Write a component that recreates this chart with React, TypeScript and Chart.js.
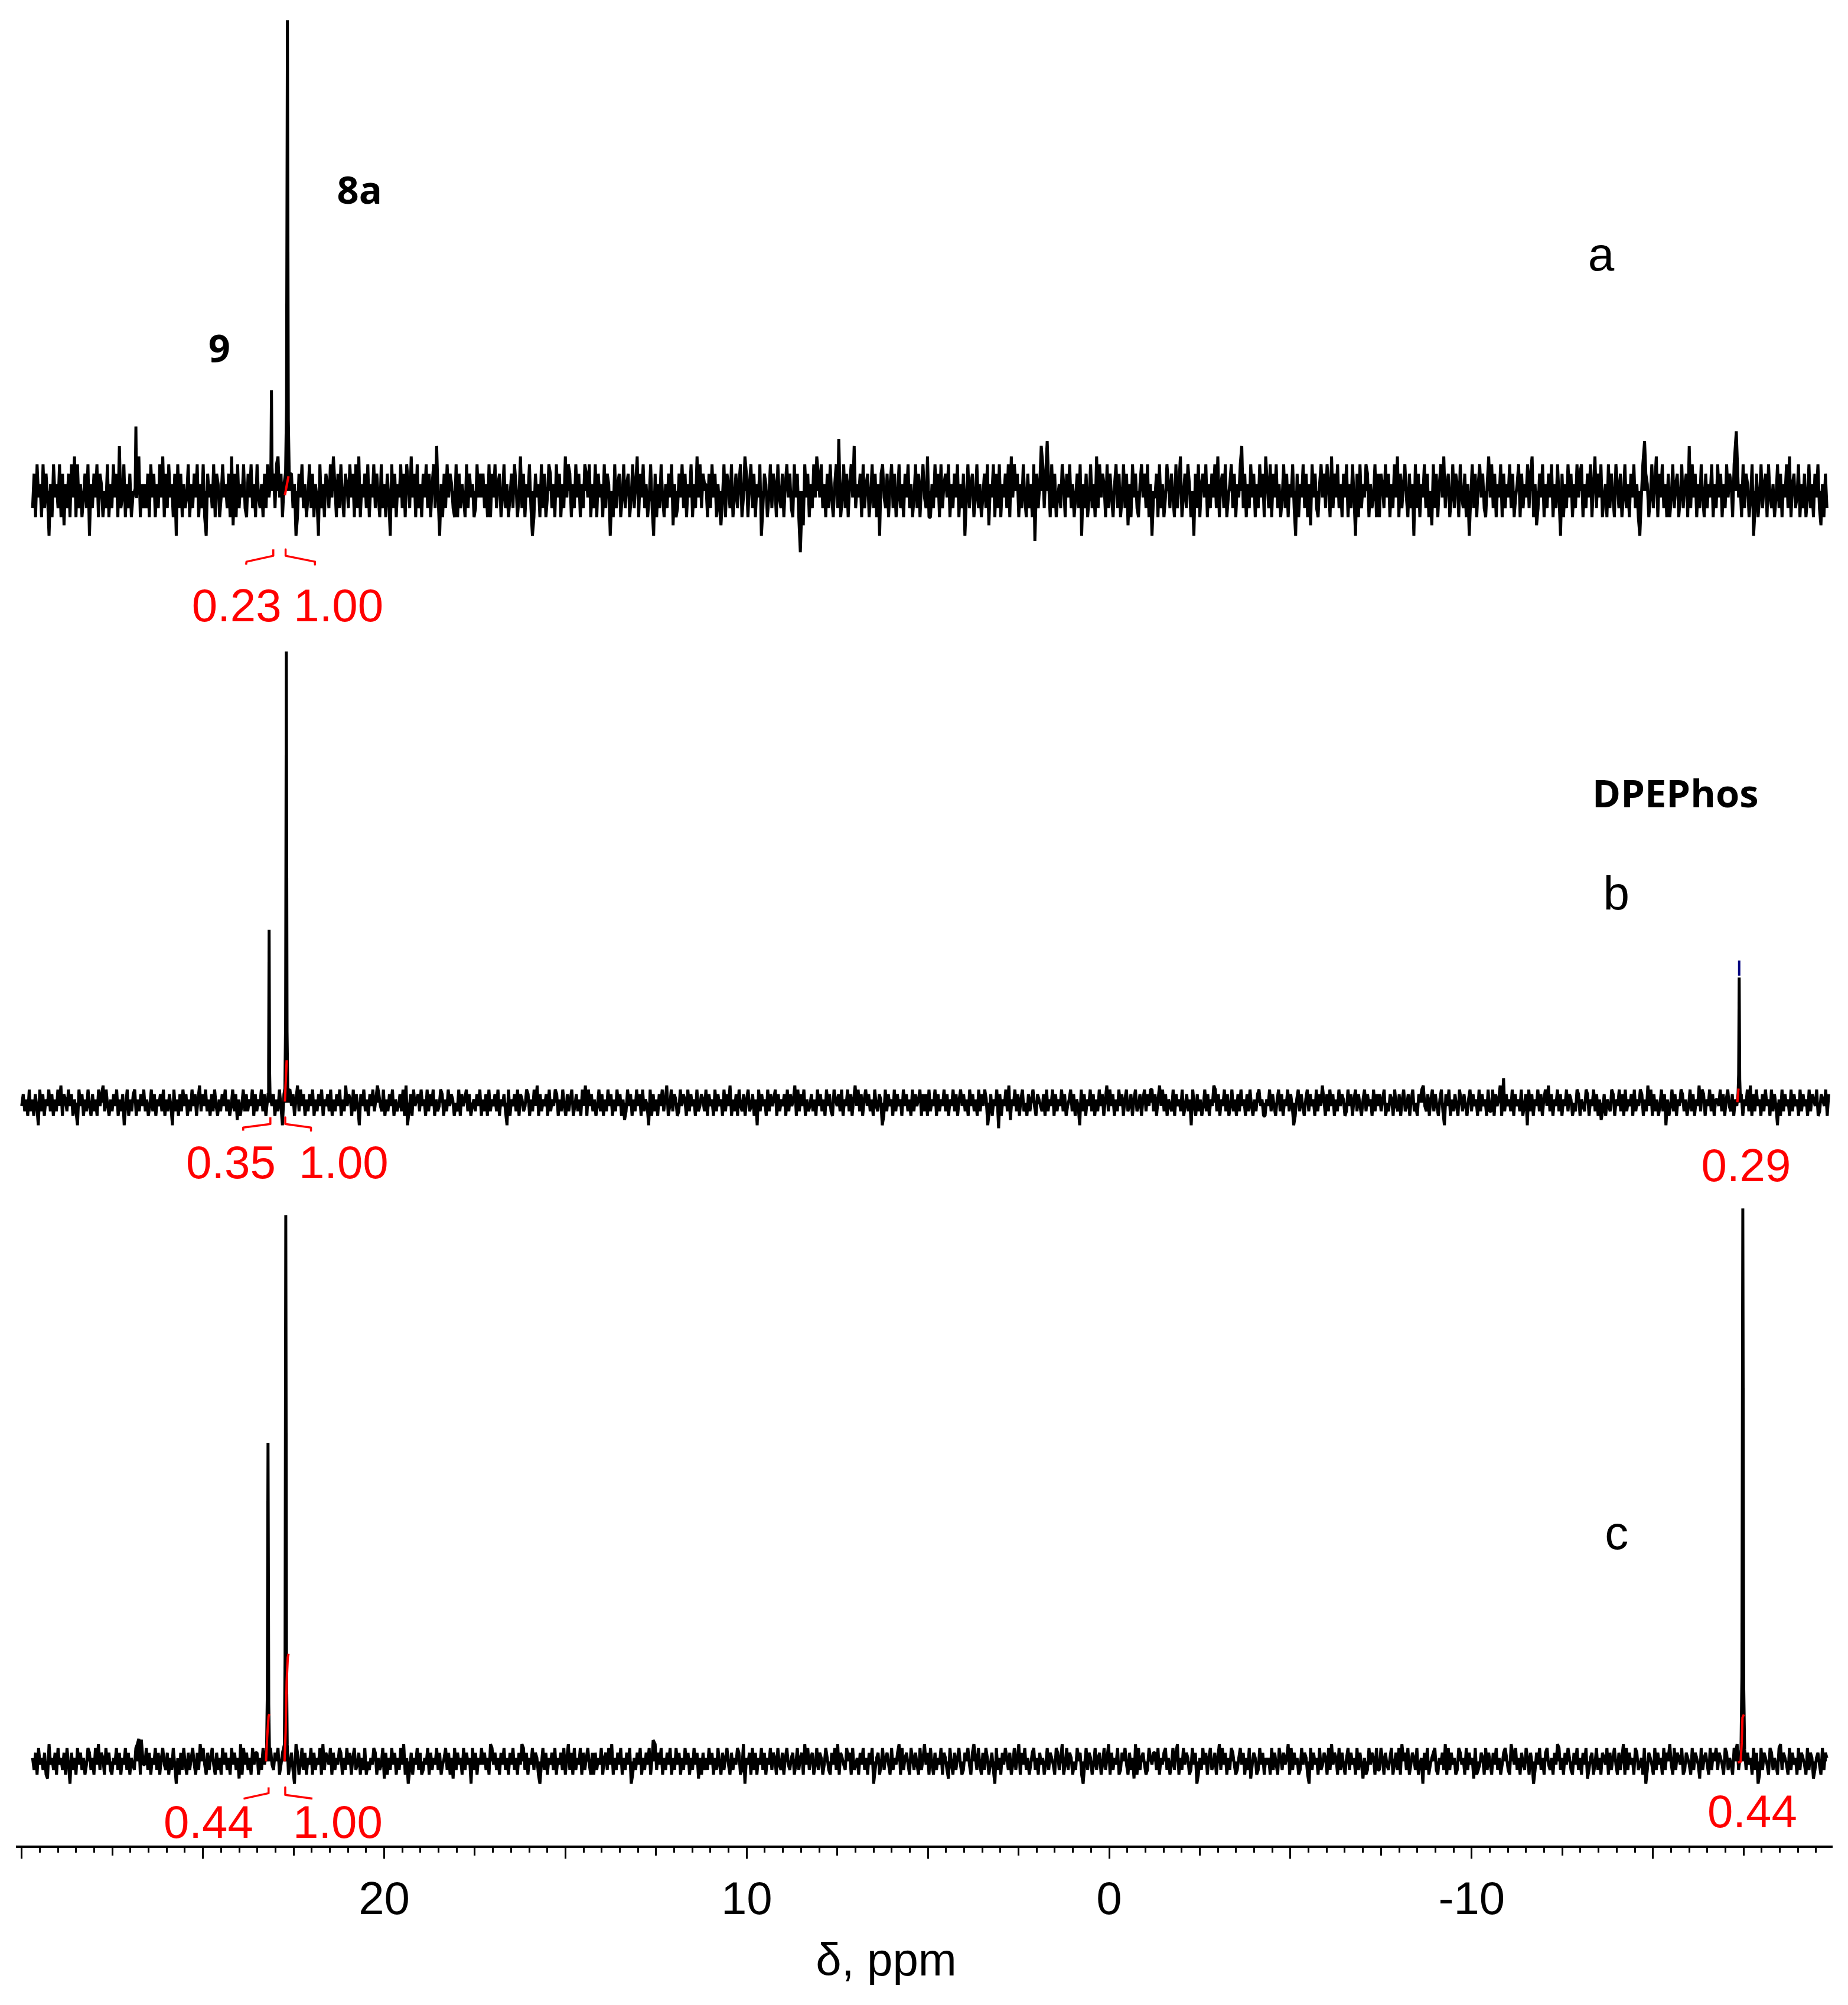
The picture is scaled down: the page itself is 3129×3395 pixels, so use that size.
import React, { useEffect, useRef } from 'react';
import { Chart, registerables } from 'chart.js';

Chart.register(...registerables);

const WIDTH = 3129;
const HEIGHT = 3395;

// ---- x axis (chemical shift, ppm, reversed) ----
const PPM_MIN = -19.95;
const PPM_MAX = 30.12;
const TICK_LABELS = [20, 10, 0, -10];
const AXIS_TITLE = 'δ, ppm';

// ---- vertical stacking: baseline of each spectrum (y units) ----
const Y_MAX = 390.875;
const OFFSETS: Record<string, number> = { a: 287, b: 157.5, c: 18.125 };

// ---- baseline noise (hand-read texture), digit -> level ----
const NOISE_LEVELS = [-3.4, -2.6, -2.0, -1.3, -0.5, 0.5, 1.3, 2.0, 2.6, 3.4];

const NOISE_A = [
  '362745273640527453726153627482735246370536472652437253746293472536245718253',
  '536274625374826374526073625347253647253720645372652474536281627354732647352',
  '743526374256378462537246350264735247362540735265374852637426537462738254637',
  '254736427352640736254736275384627352647362573940526374653272635427364523746',
  '463527264735624735246375248362547302645273624763527462538476253746253764725',
  '372645273650427356247356247358264735247306253742536471523647362547253847365',
  '526374625314726537246357248625736254703652473652743625746327462531746253748',
  '647352637425736247362574935462735624736250674362573624735264735247362574382',
  '253746273564725364725360473562473524637154726372546372847562537426352746359',
  '736452736245375264735246370536247352837465273642573624736152746325746372504',
  '462735247536427358246375240637256472536473825637245736254793625374625374628',
  '537264735247362547306254736251746325746375283647352647253740627354762534726',
  '265374625374826357426350736254736241736257483562473652743625047362574632584',
  '736254726354736245726354736825136472536472537406253746253746725364725836472',
  '452736427536247352647352047365247358264735262473562473562937462537426354725',
  '374625374652736452736524703624735627435247362547382563472536247352647315263',
];

const NOISE_B = [
  '463527352640736254736253748265374625307462537426352746837425364725360472536',
  '725364735247362546372536407352637462537462583647352637425364735247361524736',
  '354726354736257346253740625374625837462536472536472546372536472538465273640',
  '647352647358643725364725346372803627456374527364725347625374652437264573624',
  '536472536273546372546307254637265347625374826354627354762537426357246352748',
  '274635247362537462537462513746253746273540726352647358247365237465273645273',
  '465372645273645273648253627436257346250736452736457263546273645827364725346',
  '352746352746327546372547362584736257463527436502736452736452746352736457263',
  '627354726354736254736257463527463527364750362547362547381547362573426357426',
  '543627354726354736245736254073625473625374625837462537462573462573462573647',
  '736258473625437264537246350742635247362548736254736247352637452637425367452',
  '254736425736254736402573642573645273648526374625374652374625736425736452736',
  '463572436527436257346257342657843625736425730647253642753642573645273645273',
  '372645827364537264537246073625473625748362547362547365243762543762547362513',
  '625437625473627354627354762538472635247360524736254763524736254837625473625',
  '547362574362547362547382637452637452736405273645273645273645273654723654726',
];

const NOISE_C = [
  '536274536218453627453627406352746352476352748365274632547362547362543789254',
  '473625473625743625374052637426357426385742635742635274635274635182746352746',
  '625374652743657246357246308624736254726354728365472635476253746257346253724',
  '354762534716253746253748250362547362354726354736245736251736452736450736254',
  '746352874635264735264735264873625473652047362546372546372583627354726357426',
  '263547256374825364725364702536472536472548364725364725374625374625374615263',
  '537462537426357426354762380546273625473625473652743625743562473562847356247',
  '365247532647382654375627345264735264703562473564273546827356427536427358462',
  '742635472653174263574236574268537426375246307352647536247358264735246735264',
  '524736542763582473652437562047365247356247358263547236574263518273564237546',
  '637254673524736825374652374602537462573462583746253764235746253714652374625',
  '452736427536458273645237465207364527346527384652736425736452736415237465273',
  '375264357246372856372465372450637245673254638273645237645273645172346527364',
  '264735246753286473526437526403647352674352648735264753264735264713562473526',
  '547263574263582736452763452703654273645273658427365472365427365417356427365',
  '736542763542768354273645273602736542763542783654273645273654273651356427365',
];

// ---- peaks: [ppm, intensity above baseline] ----
const PEAKS_A: [number, number][][] = [
  [[26.87, 0.5], [26.85, 13.6], [26.83, -1.5]],
  [[23.14, 2.0], [23.125, 6.0], [23.11, 21.3], [23.095, 5.0], [23.08, 2.0]],
  [[22.72, 4.0], [22.695, 18.0], [22.67, 99.6], [22.645, 15.0], [22.62, 3.5]],
  [[8.52, -13.0]],
  [[7.46, 11.0]],
  [[2.05, -10.6]],
  [[1.71, 10.5]],
  [[-14.77, 10.5]],
  [[-17.3, 12.6]],
];

const PEAKS_B: [number, number][][] = [
  [[23.2, 2.0], [23.188, 8.0], [23.175, 36.6], [23.162, 7.0], [23.15, 2.0]],
  [[22.74, 3.0], [22.72, 17.0], [22.7, 95.5], [22.68, 15.0], [22.66, 2.5]],
  [[3.05, -5.4]],
  [[-10.88, 5.2]],
  [[-17.35, 2.0], [-17.365, 6.0], [-17.38, 26.5], [-17.395, 5.0], [-17.41, 1.5]],
];

const PEAKS_C: [number, number][][] = [
  [[26.7, 4.6]],
  [[23.245, 2.5], [23.225, 14.0], [23.205, 67.4], [23.185, 12.0], [23.165, 2.5]],
  [[22.755, 3.5], [22.735, 22.0], [22.715, 115.6], [22.695, 20.0], [22.675, 3.5]],
  [[12.58, 4.5]],
  [[-17.43, 2.5], [-17.455, 18.0], [-17.48, 117.0], [-17.505, 16.0], [-17.53, 2.5]],
];

// ---- integral curves (red) ----
const INTEGRALS_A: [number, number][][] = [[[22.74, -0.9], [22.64, 3.1]]];
const INTEGRALS_B: [number, number][][] = [
  [[22.74, 0.25], [22.69, 9.0]],
  [[-17.33, 0.1], [-17.36, 3.0]],
];
const INTEGRALS_C: [number, number][][] = [
  [[22.75, 0], [22.72, 6], [22.69, 17], [22.66, 22], [22.64, 22.75]],
  [[23.26, 0], [23.23, 5], [23.19, 9.5], [23.17, 10]],
  [[-17.34, -0.25], [-17.42, -0.1], [-17.45, 4], [-17.47, 9.25], [-17.51, 9.9]],
];

// ---- integration range brackets (red) ----
const BRACKETS_A: [number, number][][] = [
  [[23.81, -15.6], [23.8, -15.0], [23.06, -13.75], [23.06, -12.4]],
  [[22.72, -12.4], [22.72, -13.75], [21.91, -15.0], [21.91, -15.6]],
];
const BRACKETS_B: [number, number][][] = [
  [[23.89, -5.9], [23.89, -5.25], [23.14, -4.5], [23.14, -3.1]],
  [[22.73, -3.1], [22.73, -4.5], [22.02, -5.25], [22.02, -5.9]],
];
const BRACKETS_C: [number, number][][] = [
  [[23.88, -7.9], [23.19, -6.75], [23.19, -5.5]],
  [[22.73, -5.5], [22.73, -7.1], [21.98, -7.9]],
];

// peak-pick marker on DPEPhos in b
const MARKER_B: [number, number][] = [[-17.38, 26.9], [-17.38, 30.1]];

const TRACES = [
  { id: 'a', noise: NOISE_A, amp: 2.8, start: 29.7, end: -19.8, peaks: PEAKS_A },
  { id: 'b', noise: NOISE_B, amp: 1.4, start: 30.0, end: -19.85, peaks: PEAKS_B },
  { id: 'c', noise: NOISE_C, amp: 1.4, start: 29.7, end: -19.8, peaks: PEAKS_C },
];

// ---- text annotations ----
type Label = { text: string; trace: string | null; ppm: number; y: number; style: string };
const LABELS: Label[] = [
  { text: '8a', trace: 'a', ppm: 20.68, y: 60.75, style: 'bold' },
  { text: '9', trace: 'a', ppm: 24.55, y: 27.25, style: 'bold' },
  { text: 'a', trace: 'a', ppm: -13.57, y: 46.6, style: 'plain' },
  { text: 'DPEPhos', trace: 'b', ppm: -15.62, y: 62.5, style: 'bold' },
  { text: 'b', trace: 'b', ppm: -13.99, y: 40.9, style: 'plain' },
  { text: 'c', trace: 'c', ppm: -14.0, y: 44.9, style: 'plain' },
  { text: '0.23', trace: 'a', ppm: 24.07, y: -27.6, style: 'integral' },
  { text: '1.00', trace: 'a', ppm: 21.26, y: -27.6, style: 'integral' },
  { text: '0.35', trace: 'b', ppm: 24.23, y: -16.0, style: 'integral' },
  { text: '1.00', trace: 'b', ppm: 21.12, y: -16.0, style: 'integral' },
  { text: '0.29', trace: 'b', ppm: -17.57, y: -16.6, style: 'integral' },
  { text: '0.44', trace: 'c', ppm: 24.85, y: -16.25, style: 'integral' },
  { text: '1.00', trace: 'c', ppm: 21.28, y: -16.25, style: 'integral' },
  { text: '0.44', trace: 'c', ppm: -17.74, y: -13.9, style: 'integral' },
  { text: AXIS_TITLE, trace: null, ppm: 6.15, y: -27.25, style: 'axis' },
];

const SANS = '"Liberation Sans", Arial, sans-serif';
const LABEL_STYLES: Record<string, { font: string; color: string }> = {
  bold: { font: `700 65px "Open Sans", sans-serif`, color: '#000' },
  plain: { font: `80px ${SANS}`, color: '#000' },
  integral: { font: `78px ${SANS}`, color: '#ff0000' },
  axis: { font: `78px ${SANS}`, color: '#000' },
};

function buildTrace(t: typeof TRACES[number]) {
  const digits = t.noise.join('').split('').map(Number);
  const n = digits.length;
  const offset = OFFSETS[t.id];
  const ranges = t.peaks.map((p) => {
    const xs = p.map((q) => q[0]);
    return [Math.min(...xs) - 0.025, Math.max(...xs) + 0.025];
  });
  const pts: { x: number; y: number }[] = [];
  digits.forEach((d, i) => {
    const ppm = t.start + ((t.end - t.start) * i) / (n - 1);
    if (ranges.some(([lo, hi]) => ppm >= lo && ppm <= hi)) return;
    pts.push({ x: ppm, y: offset + t.amp * NOISE_LEVELS[d] });
  });
  t.peaks.forEach((p) => p.forEach(([ppm, v]) => pts.push({ x: ppm, y: offset + v })));
  pts.sort((a, b) => b.x - a.x);
  return pts;
}

function toPoints(seg: [number, number][], trace: string) {
  return seg.map(([x, y]) => ({ x, y: OFFSETS[trace] + y }));
}

const textPlugin = {
  id: 'nmrText',
  afterDraw(chart: any) {
    const { ctx, scales } = chart;
    ctx.save();
    ctx.textAlign = 'center';
    ctx.textBaseline = 'alphabetic';
    LABELS.forEach((l) => {
      const st = LABEL_STYLES[l.style];
      ctx.font = st.font;
      ctx.fillStyle = st.color;
      const off = l.trace ? OFFSETS[l.trace] : 0;
      ctx.fillText(l.text, scales.x.getPixelForValue(l.ppm), scales.y.getPixelForValue(off + l.y));
    });
    ctx.restore();
  },
};

function buildConfig(): any {
  const datasets: any[] = [];
  const redLine = (data: any, width: number) => ({
    data, borderColor: '#ff0000', borderWidth: width, pointRadius: 0, tension: 0,
    fill: false, order: 0, xAxisID: 'x', yAxisID: 'y', borderJoinStyle: 'round', borderCapStyle: 'butt',
  });
  ([['a', INTEGRALS_A], ['b', INTEGRALS_B], ['c', INTEGRALS_C]] as [string, [number, number][][]][]).forEach(
    ([tr, segs]) => segs.forEach((s) => datasets.push(redLine(toPoints(s, tr), 4)))
  );
  ([['a', BRACKETS_A], ['b', BRACKETS_B], ['c', BRACKETS_C]] as [string, [number, number][][]][]).forEach(
    ([tr, segs]) => segs.forEach((s) => datasets.push(redLine(toPoints(s, tr), 3.5)))
  );
  datasets.push({
    data: toPoints(MARKER_B, 'b'), borderColor: '#000080', borderWidth: 4, pointRadius: 0,
    fill: false, order: 0, xAxisID: 'x', yAxisID: 'y',
  });
  TRACES.forEach((t) =>
    datasets.push({
      data: buildTrace(t), borderColor: '#000', backgroundColor: '#000', borderWidth: 5,
      pointRadius: 0, tension: 0, fill: { value: OFFSETS[t.id] },
      order: 1, xAxisID: 'x', yAxisID: 'y', borderJoinStyle: 'bevel',
    })
  );

  const minorAxis = (step: number, len: number) => ({
    type: 'linear', axis: 'x', position: { y: 0 }, min: PPM_MIN, max: PPM_MAX, reverse: true,
    ticks: { display: false, stepSize: step, includeBounds: false, autoSkip: false },
    grid: { drawOnChartArea: false, drawTicks: true, tickLength: len, tickWidth: 3, tickColor: '#000' },
    border: { display: false },
  });

  return {
    type: 'line',
    data: { datasets },
    options: {
      responsive: false,
      devicePixelRatio: 1,
      animation: false,
      events: [],
      layout: { padding: { left: 29.4, right: 26.5, top: 0, bottom: 104 } },
      plugins: {
        legend: { display: false }, tooltip: { enabled: false }, title: { display: false },
        filler: { propagate: false },
      },
      scales: {
        x: {
          type: 'linear', position: 'bottom', min: PPM_MIN, max: PPM_MAX, reverse: true,
          ticks: {
            stepSize: 5, includeBounds: false, autoSkip: false, maxRotation: 0, minRotation: 0,
            padding: 25, color: '#000',
            font: { family: SANS, size: 78, lineHeight: 1.2 },
            callback: (v: number) => (TICK_LABELS.includes(Math.round(v * 1000) / 1000) ? String(Math.round(v)) : ''),
          },
          grid: { drawOnChartArea: false, drawTicks: true, tickLength: 20, tickWidth: 3, tickColor: '#000' },
          border: { display: true, color: '#000', width: 4 },
          title: { display: false },
        },
        xMid: minorAxis(2.5, 15),
        xMinor: minorAxis(0.5, 10),
        y: { type: 'linear', display: false, min: 0, max: Y_MAX },
      },
    },
    plugins: [textPlugin],
  };
}

export default function App() {
  const ref = useRef<HTMLCanvasElement>(null);
  useEffect(() => {
    if (!ref.current) return;
    const chart = new Chart(ref.current, buildConfig());
    return () => chart.destroy();
  }, []);
  return (
    <div style={{ position: 'absolute', left: 0, top: 0, width: WIDTH, height: HEIGHT, background: '#fff' }}>
      <canvas ref={ref} width={WIDTH} height={HEIGHT} style={{ display: 'block', width: WIDTH, height: HEIGHT }} />
    </div>
  );
}
